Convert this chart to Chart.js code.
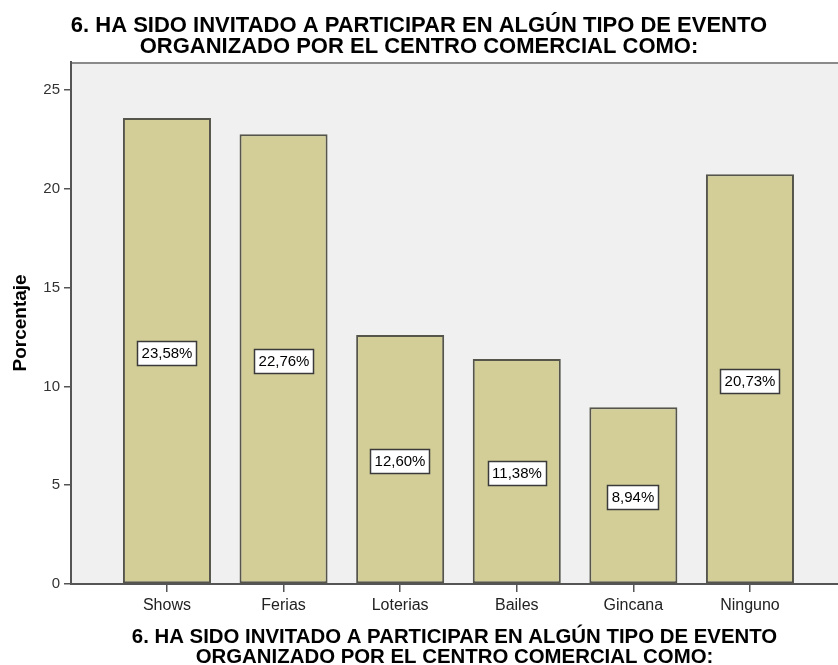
<!DOCTYPE html>
<html>
<head>
<meta charset="utf-8">
<script src="https://cdn.jsdelivr.net/npm/chart.js@4/dist/chart.umd.min.js"></script>
<style>
  html, body { margin: 0; padding: 0; background: #fff; }
  #wrap { width: 838px; height: 665px; }
</style>
</head>
<body>
<div id="wrap"><canvas id="eventChart" width="838" height="665"></canvas></div>
<script>
// survey question 6: events the mall invited people to
const categories = ['Shows', 'Ferias', 'Loterias', 'Bailes', 'Gincana', 'Ninguno'];
const percentages = [23.58, 22.76, 12.60, 11.38, 8.94, 20.73];
const yTicks = [0, 5, 10, 15, 20, 25];
const titleLines = [
    '6. HA SIDO INVITADO A PARTICIPAR EN ALGÚN TIPO DE EVENTO',
    'ORGANIZADO POR EL CENTRO COMERCIAL COMO:'
];

const FONT = '"Liberation Sans", Arial, sans-serif';

// grey plot background + top frame line
const plotFrame = {
    id: 'plotFrame',
    beforeDraw(chart) {
        const { ctx, chartArea: a } = chart;
        ctx.save();
        ctx.fillStyle = '#f0f0f0';
        ctx.fillRect(a.left, a.top, a.right - a.left, a.bottom - a.top);
        ctx.strokeStyle = '#8a8a8a';
        ctx.lineWidth = 2;
        ctx.beginPath();
        ctx.moveTo(a.left, a.top + 1);
        ctx.lineTo(a.right, a.top + 1);
        ctx.stroke();
        ctx.restore();
    }
};

// boxed percentage in the middle of each bar
const valueBoxes = {
    id: 'valueBoxes',
    afterDatasetsDraw(chart) {
        const ctx = chart.ctx;
        const meta = chart.getDatasetMeta(0);
        ctx.save();
        ctx.font = '15px ' + FONT;
        ctx.textAlign = 'center';
        ctx.textBaseline = 'middle';
        meta.data.forEach((bar, i) => {
            const text = percentages[i].toFixed(2).replace('.', ',') + '%';
            const w = Math.round(ctx.measureText(text).width + 8);
            const h = 24;
            const cx = Math.round(bar.x);
            const cy = Math.round((bar.y + bar.base) / 2 + 2);
            const x0 = cx - Math.round(w / 2) + 0.5;
            const y0 = cy - Math.round(h / 2) + 0.5;
            ctx.fillStyle = '#ffffff';
            ctx.fillRect(x0, y0, w, h);
            ctx.strokeStyle = '#3a3a3a';
            ctx.lineWidth = 1.5;
            ctx.strokeRect(x0, y0, w, h);
            ctx.fillStyle = '#000';
            ctx.fillText(text, cx, cy + 1);
        });
        ctx.restore();
    }
};

const ctx = document.getElementById('eventChart').getContext('2d');

const eventChart = new Chart(ctx, {
    type: 'bar',
    data: {
        datasets: [{
            data: percentages.map((v, i) => ({ x: i, y: v })),
            backgroundColor: '#d3ce97',
            borderColor: '#55554c',
            borderWidth: 2,
            borderSkipped: false,
            categoryPercentage: 1,
            barPercentage: 0.755
        }]
    },
    options: {
        responsive: false,
        animation: false,
        devicePixelRatio: 1,
        layout: { padding: 0 },
        plugins: {
            legend: { display: false },
            tooltip: { enabled: false },
            title: {
                display: true,
                text: titleLines,
                color: '#000',
                font: { family: FONT, size: 22, weight: 'bold', lineHeight: 0.93 },
                padding: { top: 16, bottom: 5 }
            }
        },
        scales: {
            x: {
                type: 'linear',
                offset: false,
                min: -0.823,
                max: 5.755,
                afterBuildTicks: s => { s.ticks = categories.map((c, i) => ({ value: i })); },
                afterFit: s => { s.height = 81; },
                ticks: {
                    callback: v => categories[v],
                    color: '#222',
                    font: { family: FONT, size: 16 },
                    padding: 4,
                    autoSkip: false,
                    maxRotation: 0
                },
                grid: { offset: false, drawOnChartArea: false, tickLength: 8, color: '#555', lineWidth: 1.5 },
                border: { color: '#555', width: 2 },
                title: {
                    display: true,
                    text: titleLines,
                    color: '#000',
                    font: { family: FONT, size: 20.4, weight: 'bold', lineHeight: 0.98 },
                    padding: { top: 0, bottom: -2 }
                }
            },
            y: {
                min: 0,
                max: 26.42,
                afterBuildTicks: s => { s.ticks = yTicks.map(v => ({ value: v })); },
                afterFit: s => { s.width = 71; },
                ticks: {
                    color: '#333',
                    font: { family: FONT, size: 15 },
                    padding: 4
                },
                grid: { drawOnChartArea: false, tickLength: 7, color: '#555', lineWidth: 1.5 },
                border: { color: '#555', width: 2 },
                title: {
                    display: true,
                    text: 'Porcentaje',
                    color: '#000',
                    font: { family: FONT, size: 19, weight: 'bold', lineHeight: 1.1 },
                    padding: { top: 10, bottom: 0 }
                }
            }
        }
    },
    plugins: [plotFrame, valueBoxes]
});
</script>
</body>
</html>
